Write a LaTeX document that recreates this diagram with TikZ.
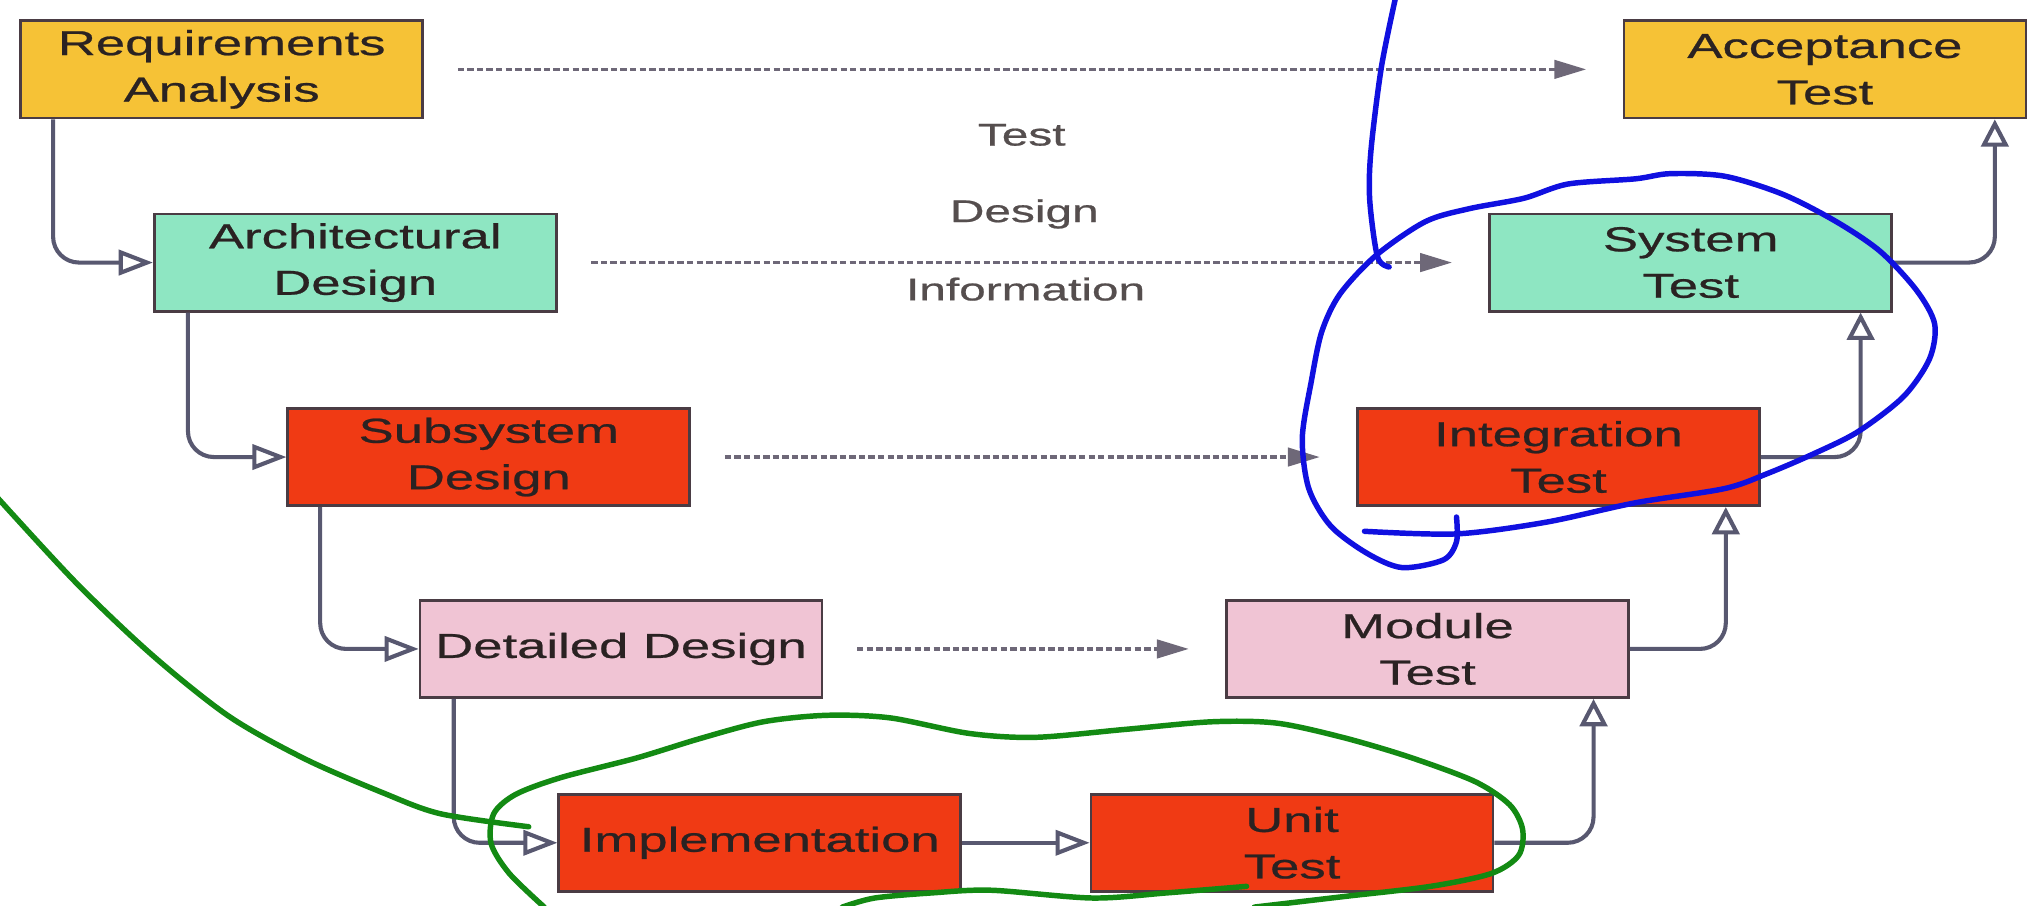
\documentclass[tikz,border=0pt]{standalone}
\usepackage{fontspec}
\setmainfont{Liberation Sans}[FakeStretch=1.52, FakeBold=0.7]
\usetikzlibrary{arrows.meta}

\definecolor{reqyellow}{HTML}{F6C236}
\definecolor{archgreen}{HTML}{8EE6C2}
\definecolor{subred}{HTML}{F03A14}
\definecolor{detpink}{HTML}{F0C4D4}
\definecolor{boxline}{HTML}{4A3C44}
\definecolor{boxtext}{HTML}{2A2222}
\definecolor{linkgray}{HTML}{585870}
\definecolor{dotgray}{HTML}{6E6878}
\definecolor{blueink}{HTML}{1010E0}
\definecolor{greenink}{HTML}{138A13}

\tikzset{
  phase/.style={draw=boxline, line width=0.6pt, minimum width=3.1cm, minimum height=0.75cm,
    inner sep=0pt, align=center, text=boxtext, font=\fontsize{7.6}{10.2}\selectfont},
  flow/.style={draw=linkgray, line width=0.9pt, rounded corners=0.2cm},
  flowh/.style={flow, -{Triangle[open, length=7.5pt, width=5.5pt]}},
  flowv/.style={flow, -{Triangle[open, length=6pt, width=6pt]}},
  info/.style={draw=dotgray, line width=0.8pt, dash pattern=on 1.4pt off 0.7pt,
    shorten <=0.26cm, shorten >=0.28cm, -{Triangle[length=7pt, width=4pt, fill=dotgray]}},
  infotext/.style={text=boxtext!80, font=\fontsize{6.9}{8}\selectfont},
  ink/.style={line width=1.2pt, line cap=round, line join=round}
}

\begin{document}
\begin{tikzpicture}
  \useasboundingbox (0,0) rectangle (15.68,-6.98);

  % design side
  \node[phase, fill=reqyellow] (req) at (1.71,-0.535) {Requirements\\Analysis};
  \node[phase, fill=archgreen] (arch) at (2.74,-2.025) {Architectural\\Design};
  \node[phase, fill=subred] (sub) at (3.77,-3.525) {Subsystem\\Design};
  \node[phase, fill=detpink] (det) at (4.79,-5.005) {Detailed Design};
  \node[phase, fill=subred] (impl) at (5.86,-6.50) {Implementation};

  % test side
  \node[phase, fill=subred] (unit) at (9.965,-6.50) {Unit\\Test};
  \node[phase, fill=detpink] (mod) at (11.01,-5.005) {Module\\Test};
  \node[phase, fill=subred] (integ) at (12.02,-3.525) {Integration\\Test};
  \node[phase, fill=archgreen] (sys) at (13.04,-2.025) {System\\Test};
  \node[phase, fill=reqyellow] (acc) at (14.075,-0.535) {Acceptance\\Test};

  \node[infotext] (lbltest) at (7.88,-1.04) {Test};
  \node[infotext] (lbldesign) at (7.90,-1.65) {Design};
  \node[infotext] (lblinfo) at (7.91,-2.23) {Information};

  % down the left
  \draw[flowh] ([xshift=0.26cm]req.south west) |- (arch.west);
  \draw[flowh] ([xshift=0.27cm]arch.south west) |- (sub.west);
  \draw[flowh] ([xshift=0.26cm]sub.south west) |- (det.west);
  \draw[flowh] ([xshift=0.27cm]det.south west) |- (impl.west);
  \draw[flowh] (impl) -- (unit);

  % up the right
  \draw[flowv] (unit.east) -| ([xshift=-0.28cm]mod.south east);
  \draw[flowv] (mod.east) -| ([xshift=-0.27cm]integ.south east);
  \draw[flowv] (integ.east) -| ([xshift=-0.25cm]sys.south east);
  \draw[flowv] (sys.east) -| ([xshift=-0.25cm]acc.south east);

  % test design information
  \draw[info] (req) -- (acc);
  \draw[info] (arch) -- (sys);
  \draw[info] (sub) -- (integ);
  \draw[info] (det) -- (mod);

  % hand marks
  \begin{scope}[x=0.01cm, y=-0.01cm]
    \draw[ink, blueink] plot[smooth] coordinates {(1077,-2) (1066,52) (1058,116) (1057,154) (1063,198) (1072,206)};
    \draw[ink, blueink] plot[smooth] coordinates {(1053,410) (1124,412) (1193,403) (1262,388) (1331,377)
      (1365,365) (1400,350) (1434,333) (1469,306) (1489,277) (1493,250) (1479,224) (1451,194) (1417,171)
      (1376,150) (1331,136) (1289,134) (1262,138) (1210,142) (1176,153) (1134,161) (1100,171) (1062,197)
      (1034,227) (1020,256) (1012,294) (1005,338) (1010,377) (1027,406) (1055,427) (1082,438) (1114,432)
      (1124,418) (1124,399)};
    \draw[ink, greenink] plot[smooth] coordinates {(-2,384) (59,450) (118,506) (177,553) (236,586)
      (296,612) (340,628) (408,638)};
    \draw[ink, greenink] plot[smooth] coordinates {(420,700) (393,674) (379,651) (381,628) (398,613)
      (433,600) (491,585) (540,570) (589,557) (638,552) (687,554) (748,566) (799,569) (867,563) (935,557)
      (985,558) (1036,569) (1087,584) (1138,603) (1165,621) (1175,640) (1172,660) (1151,674) (1104,684)
      (1036,692) (968,700)};
    \draw[ink, greenink] plot[smooth] coordinates {(650,700) (675,693) (720,689) (765,687) (843,693)
      (901,689) (962,684)};
  \end{scope}
\end{tikzpicture}
\end{document}
